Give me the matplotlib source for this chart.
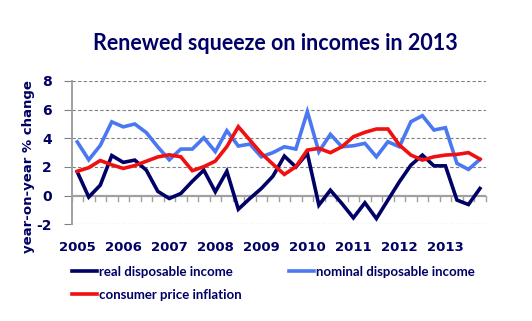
import matplotlib
matplotlib.use("Agg")
import matplotlib.pyplot as plt
import numpy as np

years = ["2005", "2006", "2007", "2008", "2009", "2010", "2011", "2012", "2013"]
quarters = [f"{y} Q{q}" for y in years for q in range(1, 5)]

real_income = [1.66, -0.1, 0.73, 2.8, 2.32, 2.48, 1.78, 0.3, -0.2, 0.15, 1.0, 1.78,
               0.27, 1.7, -0.95, -0.2, 0.5, 1.35, 2.76, 2.0, 2.95, -0.66, 0.38, -0.55,
               -1.55, -0.5, -1.6, -0.31, 0.97, 2.13, 2.83, 2.08, 2.08, -0.31, -0.62, 0.5]
nominal_income = [3.75, 2.5, 3.5, 5.15, 4.8, 5.0, 4.4, 3.4, 2.5, 3.25, 3.25, 4.04,
                  3.07, 4.53, 3.46, 3.6, 2.71, 3.0, 3.41, 3.25, 5.86, 3.06, 4.28, 3.41,
                  3.48, 3.65, 2.71, 3.76, 3.41, 5.16, 5.58, 4.58, 4.74, 2.25, 1.83, 2.53]
cpi = [1.7, 1.95, 2.45, 2.15, 1.9, 2.1, 2.4, 2.7, 2.85, 2.71, 1.74, 2.02,
       2.41, 3.42, 4.81, 3.88, 2.95, 2.2, 1.48, 2.02, 3.18, 3.3, 3.0, 3.41,
       4.11, 4.42, 4.65, 4.65, 3.53, 2.83, 2.48, 2.71, 2.83, 2.88, 3.0, 2.55]

y_ticks = [-2, 0, 2, 4, 6, 8]

NAVY = "#000066"
BLUE = "#4A78F0"
RED = "#F01010"
GRID = "#808080"

fig = plt.figure(figsize=(5.32, 3.21), dpi=100)
W, H = 532, 321
ax = fig.add_axes([71.5 / W, 1 - 224.3 / H, 414.2 / W, 143.3 / H])

x = np.arange(len(quarters))
l_real, = ax.plot(x, real_income, color=NAVY, lw=2.6, solid_joinstyle="miter")
l_nom, = ax.plot(x, nominal_income, color=BLUE, lw=2.6, solid_joinstyle="miter")
l_cpi, = ax.plot(x, cpi, color=RED, lw=2.6, solid_joinstyle="miter")

ax.set_xlim(-0.5, len(quarters) - 0.5)
ax.set_ylim(-2, 8)

for v in y_ticks:
    if v != 0:
        ax.axhline(v, color=GRID, lw=0.8, ls=(0, (3, 2)), zorder=0)
ax.axhline(0, color="#A0A0A0", lw=1.6, zorder=1)

# quarter tick marks on the zero line
for b in np.arange(-0.5, len(quarters), 1.0):
    ax.plot([b, b], [0, -0.38], color="#A0A0A0", lw=1.0, zorder=1, clip_on=False)

for s in ["top", "right", "bottom"]:
    ax.spines[s].set_visible(False)
ax.spines["left"].set_color("#A0A0A0")
ax.spines["left"].set_linewidth(1.4)

ax.set_yticks(y_ticks)
ax.set_yticklabels([str(v) for v in y_ticks], fontsize=10, fontweight="bold",
                   color=NAVY, family="DejaVu Sans")
ax.tick_params(axis="y", length=6, color=GRID, width=0.8, pad=8)

ax.set_xticks(x[::4])
ax.set_xticklabels(years, fontsize=9.5, fontweight="bold", color=NAVY, family="DejaVu Sans")
ax.tick_params(axis="x", length=0, pad=12)

fig.text(29 / W, 1 - 167 / H, "year-on-year % change", rotation=90, ha="center", va="center",
         fontsize=9.5, fontweight="bold", color=NAVY, family="DejaVu Sans")

fig.text(275 / W, 1 - 43 / H, "Renewed squeeze on incomes in 2013", ha="center", va="center",
         fontsize=15.5, fontweight="bold", color=NAVY, family="Lato")

leg = fig.legend([l_real, l_cpi, l_nom],
                 ["real disposable income", "consumer price inflation", "nominal disposable income"],
                 ncol=2, loc="upper left", bbox_to_anchor=(71.5 / W, 1 - 265.5 / H),
                 frameon=False, borderpad=0, borderaxespad=0, handlelength=1.9,
                 handletextpad=0.15, columnspacing=3.6, labelspacing=0.85,
                 prop={"family": "Lato", "weight": "bold", "size": 9.5})
for t in leg.get_texts():
    t.set_color(NAVY)

fig.savefig("out.png", dpi=100)
